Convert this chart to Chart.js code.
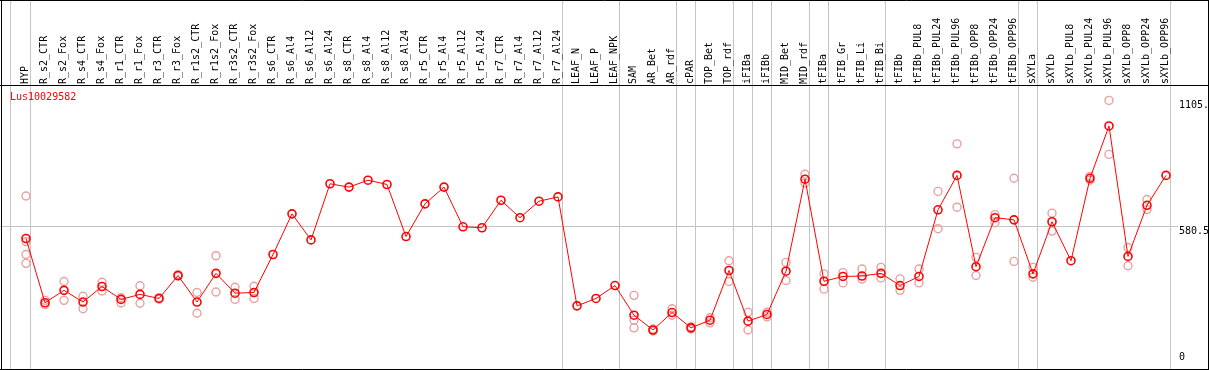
<!DOCTYPE html>
<html><head><meta charset="utf-8">
<script src="https://cdn.jsdelivr.net/npm/chart.js@4.4.1/dist/chart.umd.min.js"></script>
<style>html,body{margin:0;padding:0;background:#fff;overflow:hidden}#wrap{width:1209px;height:370px;position:relative}</style>
</head><body><div id="wrap"><canvas id="c" width="1209" height="370"></canvas></div>
<script>
const geneName = 'Lus10029582';
const categories = ['HYP','R_s2_CTR','R_s2_Fox','R_s4_CTR','R_s4_Fox','R_r1_CTR','R_r1_Fox','R_r3_CTR','R_r3_Fox','R_r1s2_CTR','R_r1s2_Fox','R_r3s2_CTR','R_r3s2_Fox','R_s6_CTR','R_s6_Al4','R_s6_Al12','R_s6_Al24','R_s8_CTR','R_s8_Al4','R_s8_Al12','R_s8_Al24','R_r5_CTR','R_r5_Al4','R_r5_Al12','R_r5_Al24','R_r7_CTR','R_r7_Al4','R_r7_Al12','R_r7_Al24','LEAF_N','LEAF_P','LEAF_NPK','SAM','AR_Bet','AR_rdf','cPAR','TOP_Bet','TOP_rdf','iFIBa','iFIBb','MID_Bet','MID_rdf','tFIBa','tFIB_Gr','tFIB_Li','tFIB_Bi','tFIBb','tFIBb_PUL8','tFIBb_PUL24','tFIBb_PUL96','tFIBb_OPP8','tFIBb_OPP24','tFIBb_OPP96','sXYLa','sXYLb','sXYLb_PUL8','sXYLb_PUL24','sXYLb_PUL96','sXYLb_OPP8','sXYLb_OPP24','sXYLb_OPP96'];
const means = [527,258,310,261,326,272,293,276,372,261,381,298,301,460,630,521,756,742,771,753,535,672,742,576,572,687,614,683,701,245,276,330,206,144,217,153,185,393,181,209,390,775,348,368,370,381,330,368,647,791,409,614,605,379,597,434,779,998,452,666,791];
const replicates = [
  [705,514,460,423],[268,250],[347,268],[285,233],[344,307],[279,257],[329,256],[279,273],[375,369],[301,214],[455,303],[323,272],[327,276],
  [],[],[],[],[],[],[],[],[],[],[],[],[],[],[],[],[],[],[],
  [289,185,153],[148,140],[233,206],[158,148],[195,174],[434,347],[218,144],[218,199],[427,351],[796,759],
  [379,315],[384,341],[399,357],[406,362],
  [358,310],[399,341],[724,568],[923,658],[448,372],[627,593],[779,431],
  [406,365],[633,558],[],[787,772],[1105,879],[489,413],[690,648],[]
];
const groupEnds = [0,28,31,34,35,37,38,39,41,42,45,52,53,60];
const yTickValues = [0, 580.5, 1105];
const yTickLabels = ['0', '580.5', '1105.'];
const yMax = 1161;

const FONT = '10px "DejaVu Sans Mono"';
const repPoints = [];
categories.forEach((c, i) => replicates[i].forEach(v => repPoints.push({x: c, y: v})));

const framePlugin = {
  id: 'frame',
  beforeDraw(chart) {
    const ctx = chart.ctx, xs = chart.scales.x, ys = chart.scales.y;
    ctx.save();
    ctx.strokeStyle = '#c4c4c4'; ctx.lineWidth = 1;
    const lines = [xs.getPixelForValue(0) - 15.5].concat(groupEnds.map(i => xs.getPixelForValue(i) + 4.5));
    lines.forEach(x => { const px = Math.floor(x) + 0.5; ctx.beginPath(); ctx.moveTo(px, 0); ctx.lineTo(px, 370); ctx.stroke(); });
    const gy = Math.round(ys.getPixelForValue(yTickValues[1])) + 0.5;
    ctx.beginPath(); ctx.moveTo(0, gy); ctx.lineTo(1178, gy); ctx.stroke();
    ctx.restore();
  },
  afterDraw(chart) {
    const ctx = chart.ctx, ys = chart.scales.y, ca = chart.chartArea;
    ctx.save();
    ctx.strokeStyle = '#000'; ctx.lineWidth = 1;
    ctx.beginPath();
    ctx.moveTo(0, 0.5); ctx.lineTo(1209, 0.5);
    ctx.moveTo(0, 85.5); ctx.lineTo(1209, 85.5);
    ctx.moveTo(0, 369.5); ctx.lineTo(1209, 369.5);
    ctx.moveTo(1.5, 0); ctx.lineTo(1.5, 370);
    ctx.moveTo(1208.5, 0); ctx.lineTo(1208.5, 370);
    ctx.stroke();
    ctx.font = FONT;
    ctx.textBaseline = 'middle'; ctx.textAlign = 'left';
    ctx.fillStyle = '#ff0000';
    ctx.fillText(geneName, 10, 97);
    ctx.fillStyle = '#000';
    yTickValues.forEach((v, i) => {
      const y = Math.min(ys.getPixelForValue(v) + 5.5, ca.bottom - 7);
      ctx.fillText(yTickLabels[i], 1179, y);
    });
    ctx.restore();
  }
};

new Chart(document.getElementById('c'), {
  type: 'line',
  data: {
    labels: categories,
    datasets: [
      { data: means, borderColor: '#ff0000', borderWidth: 1, backgroundColor: 'rgba(0,0,0,0)',
        pointRadius: 4, pointBorderWidth: 1.6, pointBorderColor: '#ff0000', pointBackgroundColor: 'rgba(0,0,0,0)',
        tension: 0, clip: false },
      { data: repPoints, showLine: false, pointRadius: 4, pointBorderWidth: 1.4,
        pointBorderColor: '#eaa0a0', pointBackgroundColor: 'rgba(0,0,0,0)', borderColor: '#eaa0a0', clip: false }
    ]
  },
  options: {
    responsive: false, animation: false, events: [],
    devicePixelRatio: 1,
    layout: { padding: { left: 26, right: 43, top: 0, bottom: 1 } },
    plugins: { legend: { display: false }, tooltip: { enabled: false }, title: { display: false } },
    scales: {
      x: { type: 'category', position: 'top', offset: false,
        grid: { display: false, drawTicks: false }, border: { display: false },
        ticks: { autoSkip: false, minRotation: 90, maxRotation: 90, padding: 3, labelOffset: 11, color: '#000',
          font: { family: 'DejaVu Sans Mono', size: 10 } },
        afterFit(s) { s.height = 87; } },
      y: { display: false, min: 0, max: yMax }
    }
  },
  plugins: [framePlugin]
});
</script>
</body></html>
